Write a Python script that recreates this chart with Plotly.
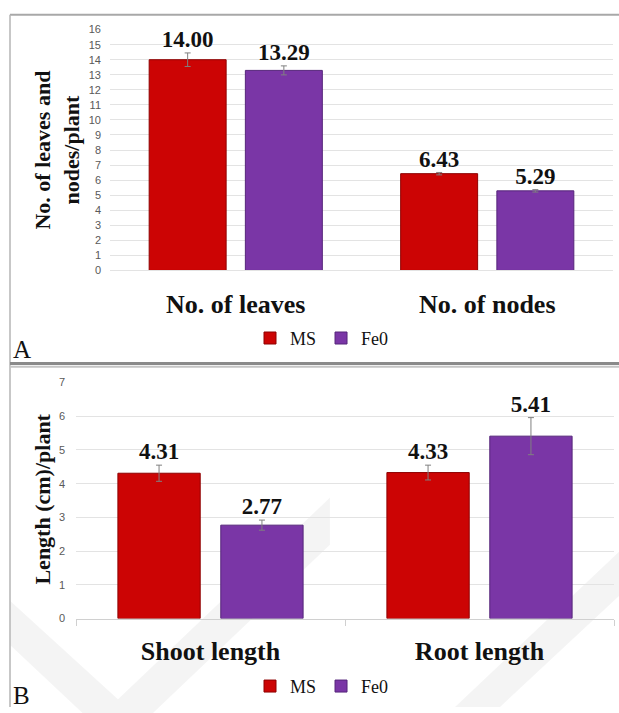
import plotly.graph_objects as go

# ---- data -------------------------------------------------------------
series = ["MS", "Fe0"]

growth_cats = ["No. of leaves", "No. of nodes"]
growth_vals = {"MS": [14.00, 6.43], "Fe0": [13.29, 5.29]}
growth_err = {"MS": [0.45, 0.08], "Fe0": [0.30, 0.08]}

length_cats = ["Shoot length", "Root length"]
length_vals = {"MS": [4.31, 4.33], "Fe0": [2.77, 5.41]}
length_err = {"MS": [0.24, 0.22], "Fe0": [0.15, 0.55]}

growth_ticks = list(range(0, 17))
length_ticks = list(range(0, 8))

# ---- styling ----------------------------------------------------------
W, H = 619, 713
fill = {"MS": "#CC0404", "Fe0": "#7A36A6"}
edge = {"MS": "#8E0000", "Fe0": "#55257A"}
SERIF = "Liberation Serif"
SANS = "Liberation Sans"


def px(x):
    return x / W


def py(y):
    return 1 - y / H


fig = go.Figure()


def add_panel(cats, vals, errs, xa, ya, legend):
    for s in series:
        fig.add_trace(go.Bar(
            x=cats, y=vals[s], name=s, xaxis=xa, yaxis=ya,
            legend=legend, offsetgroup=s,
            marker=dict(color=fill[s], line=dict(color=edge[s], width=1)),
            error_y=dict(type="data", array=errs[s], color="#808080",
                         thickness=1, width=3),
        ))
    # value labels sitting above the error bars
    for s in series:
        tops = [v + e for v, e in zip(vals[s], errs[s])]
        fig.add_trace(go.Scatter(
            x=cats, y=tops, mode="text", xaxis=xa, yaxis=ya,
            offsetgroup=s, showlegend=False, hoverinfo="skip",
            text=[f"{v:.2f}" for v in vals[s]], textposition="top center",
            textfont=dict(family=SERIF, size=23, color="#111111", weight="bold"),
        ))


add_panel(growth_cats, growth_vals, growth_err, "x", "y", "legend")
add_panel(length_cats, length_vals, length_err, "x2", "y2", "legend2")

grid = "#E3E3E3"
tickfont = dict(family=SANS, size=11, color="#595959")
catfont = dict(family=SERIF, size=26, color="#111111", weight="bold")
legfont = dict(family=SERIF, size=18, color="#111111")

fig.update_layout(
    width=W, height=H,
    margin=dict(l=0, r=0, t=0, b=0),
    paper_bgcolor="white", plot_bgcolor="rgba(0,0,0,0)",
    barmode="group", bargap=0.235, bargroupgap=0.2,
    scattermode="group", scattergap=0.235,
    xaxis=dict(domain=[px(110), px(613)], anchor="y", type="category",
               tickfont=catfont, ticklabelstandoff=10, showline=True,
               linecolor=grid, linewidth=1, showgrid=False, ticks=""),
    yaxis=dict(domain=[py(269), py(24)], anchor="x", range=[0, 16],
               tickvals=growth_ticks, tickfont=tickfont, showgrid=True,
               gridcolor=grid, gridwidth=1, zeroline=False,
               ticklabelstandoff=8),
    xaxis2=dict(domain=[px(76), px(614)], anchor="y2", type="category",
                tickfont=catfont, ticklabelstandoff=9, showline=True,
                linecolor="#D0D0D0", linewidth=1, showgrid=False,
                ticks="outside", tickson="boundaries", ticklen=6,
                tickcolor="#D0D0D0"),
    yaxis2=dict(domain=[py(623), py(383)], anchor="x2", range=[0, 7],
                tickvals=length_ticks, tickfont=tickfont, showgrid=True,
                gridcolor=grid, gridwidth=1, zeroline=False,
                ticklabelstandoff=10),
    legend=dict(orientation="h", x=px(322), xanchor="center",
                y=py(338), yanchor="middle", font=legfont,
                itemwidth=30, tracegroupgap=0, bgcolor="rgba(0,0,0,0)"),
    legend2=dict(orientation="h", x=px(322), xanchor="center",
                 y=py(692), yanchor="middle", font=legfont,
                 itemwidth=30, tracegroupgap=0, bgcolor="rgba(0,0,0,0)"),
    showlegend=True,
)

# axis titles (rotated)
fig.add_annotation(x=px(57), y=py(147), xref="paper", yref="paper",
                   text="No. of leaves and<br>nodes/plant", textangle=-90,
                   showarrow=False, xanchor="center", yanchor="middle",
                   font=dict(family=SERIF, size=22, color="#111111", weight="bold"))
fig.add_annotation(x=px(43), y=py(502), xref="paper", yref="paper",
                   text="Length (cm)/plant", textangle=-90,
                   showarrow=False, xanchor="center", yanchor="middle",
                   font=dict(family=SERIF, size=22, color="#111111", weight="bold"))

# panel letters
for letter, ypos in (("A", 349), ("B", 701)):
    fig.add_annotation(x=px(11), y=py(ypos), xref="paper", yref="paper",
                       text=letter, showarrow=False, xanchor="left",
                       yanchor="middle",
                       font=dict(family=SERIF, size=25, color="#111111"))


# faint diagonal watermark bands behind the lower panel
def poly(points):
    return "M " + " L ".join(f"{px(x):.4f},{py(y):.4f}" for x, y in points) + " Z"


watermark = [
    [(10, 605), (118, 705), (330, 500), (330, 548), (118, 753), (10, 650)],
    [(455, 713), (619, 555), (619, 600), (500, 713)],
]
for pts in watermark:
    fig.add_shape(type="path", xref="paper", yref="paper", path=poly(pts),
                  fillcolor="rgba(0,0,0,0.045)", line=dict(width=0),
                  layer="below")

# panel frames
frame = [
    dict(x0=px(10), x1=1, y0=py(9), y1=py(9), color="#A8A8A8", w=2),
    dict(x0=px(10), x1=px(10), y0=py(9), y1=0, color="#B4B4B4", w=1.5),
    dict(x0=px(10), x1=1, y0=py(363.5), y1=py(363.5), color="#8A8A8A", w=3),
    dict(x0=px(10), x1=1, y0=py(367), y1=py(367), color="#C4C4C4", w=2),
]
for f in frame:
    fig.add_shape(type="line", xref="paper", yref="paper",
                  x0=f["x0"], x1=f["x1"], y0=f["y0"], y1=f["y1"],
                  line=dict(color=f["color"], width=f["w"]))

fig.write_html("out.html")
